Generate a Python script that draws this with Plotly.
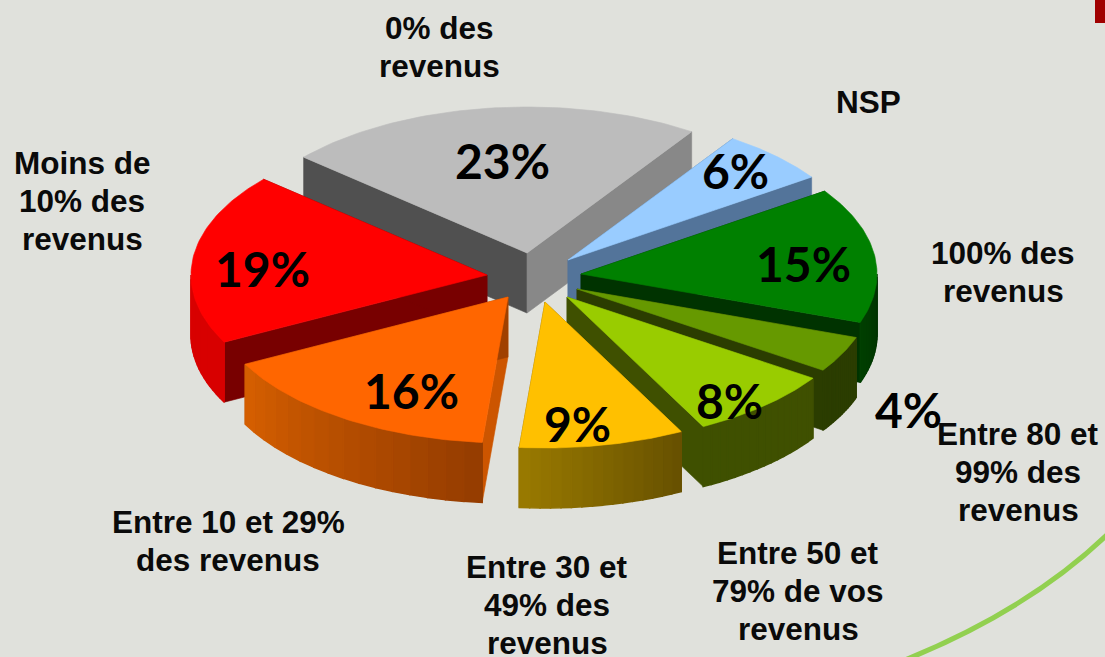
import math
import plotly.graph_objects as go

categories = ["0% des<br>revenus", "NSP", "100% des<br>revenus", "Entre 80 et<br>99% des<br>revenus",
              "Entre 50 et<br>79% de vos<br>revenus", "Entre 30 et<br>49% des<br>revenus",
              "Entre 10 et 29%<br>des revenus", "Moins de<br>10% des<br>revenus"]
values = [23, 6, 15, 4, 8, 9, 16, 19]

# styles and layout (pixel space of the axes)
top_colors = ["#BCBCBC", "#99CCFF", "#008000", "#669900", "#99CC00", "#FFC000", "#FF6600", "#FF0000"]
wall_left = ["#505050", "#53749A", "#003F00", "#2B3D00", "#3F5000", "#9A7A00", "#D65F00", "#D80000"]
wall_right = ["#888888", "#53749A", "#003000", "#2B3D00", "#3F5000", "#665000", "#943C00", "#D80000"]
cut_a = ["#505050", "#53749A", "#003300", "#2B3D00", "#3F5000", "#806000", "#CC5500", "#780000"]
cut_b = ["#888888", "#53749A", "#003300", "#2B3D00", "#3F5000", "#806000", "#A04000", "#780000"]
apex_x = [527, 568, 581, 577, 567, 545, 508, 487]
apex_y = [253, 260, 274, 289, 297, 302, 297, 275]
label_x = [439, 868, 1003, 1018, 798, 547, 228, 82]
label_y = [47, 102, 272, 472, 591, 605, 541, 201]
pct_x = [502, 735, 803, 908, 729, 577, 411, 262]
pct_y = [160, 170, 263, 409, 400, 423, 390, 268]
START, RX, RY, DEPTH = -49.0, 296, 146, 60
LINE_STEP = 38.3
ORDER = [0, 1, 2, 3, 7, 4, 6, 5]


def hex2rgb(c):
    return tuple(int(c[i:i + 2], 16) for i in (1, 3, 5))


def mix(a, b, t):
    ra, rb = hex2rgb(a), hex2rgb(b)
    return "rgb(%d,%d,%d)" % tuple(round(ra[i] + (rb[i] - ra[i]) * t) for i in range(3))


def rim(cx, cy, deg):
    r = math.radians(deg)
    return cx + RX * math.sin(r), cy - RY * math.cos(r)


fig = go.Figure()


def poly(pts, color, lw=0.6):
    xs = [p[0] for p in pts] + [pts[0][0]]
    ys = [p[1] for p in pts] + [pts[0][1]]
    fig.add_trace(go.Scatter(x=xs, y=ys, mode="lines", fill="toself", fillcolor=color,
                             line=dict(color=color, width=lw), hoverinfo="skip", showlegend=False))


total = sum(values)
spans = []
a = START
for v in values:
    b = a + 360 * v / total
    spans.append((a, b))
    a = b

for i in ORDER:
    a0, a1 = spans[i]
    cx, cy = apex_x[i], apex_y[i]
    # cut faces
    for deg, col in ((a0, cut_a[i]), (a1, cut_b[i])):
        x, y = rim(cx, cy, deg)
        poly([(cx, cy), (x, y), (x, y + DEPTH), (cx, cy + DEPTH)], col)
    # rim wall, shaded in strips, front-facing part only
    lo, hi = max(a0, 90), min(a1, 270)
    if hi > lo:
        n = 16
        for k in range(n):
            d0 = lo + (hi - lo) * k / n
            d1 = lo + (hi - lo) * (k + 1) / n
            x0, y0 = rim(cx, cy, d0)
            x1, y1 = rim(cx, cy, d1)
            poly([(x0, y0), (x1, y1), (x1, y1 + DEPTH), (x0, y0 + DEPTH)],
                 mix(wall_right[i], wall_left[i], (k + 0.5) / n), lw=1.5)
    # top face
    m = 60
    pts = [(cx, cy)] + [rim(cx, cy, a0 + (a1 - a0) * k / m) for k in range(m + 1)]
    poly(pts, top_colors[i])

for i, c in enumerate(categories):
    lines = c.split("<br>")
    for j, line in enumerate(lines):
        fig.add_annotation(x=label_x[i], y=label_y[i] + (j - (len(lines) - 1) / 2) * LINE_STEP,
                           text=f"<b>{line}</b>", showarrow=False, xanchor="center", yanchor="middle",
                           font=dict(family="Liberation Sans", size=31.5, color="#0a0a0a"))
    fig.add_annotation(x=pct_x[i], y=pct_y[i], text=f"<b>{values[i]}%</b>", showarrow=False, xanchor="center",
                       yanchor="middle", font=dict(family="Lato", size=48, color="#000000"))

fig.update_layout(
    width=1105, height=657, margin=dict(l=0, r=0, t=0, b=0),
    paper_bgcolor="#E0E1DC", plot_bgcolor="#E0E1DC", showlegend=False,
    xaxis=dict(range=[0, 1105], visible=False, fixedrange=True),
    yaxis=dict(range=[657, 0], visible=False, fixedrange=True),
    shapes=[
        dict(type="path", path="M 1110 532 Q 1030 610 900 662", line=dict(color="#92D050", width=5), layer="below"),
        dict(type="rect", x0=1095, x1=1105, y0=0, y1=23, fillcolor="#A00000", line=dict(width=0), layer="below"),
    ],
)
fig.write_html("out.html", config={"displayModeBar": False},
               post_script="document.body.style.margin='0';document.body.style.overflow='hidden';")
